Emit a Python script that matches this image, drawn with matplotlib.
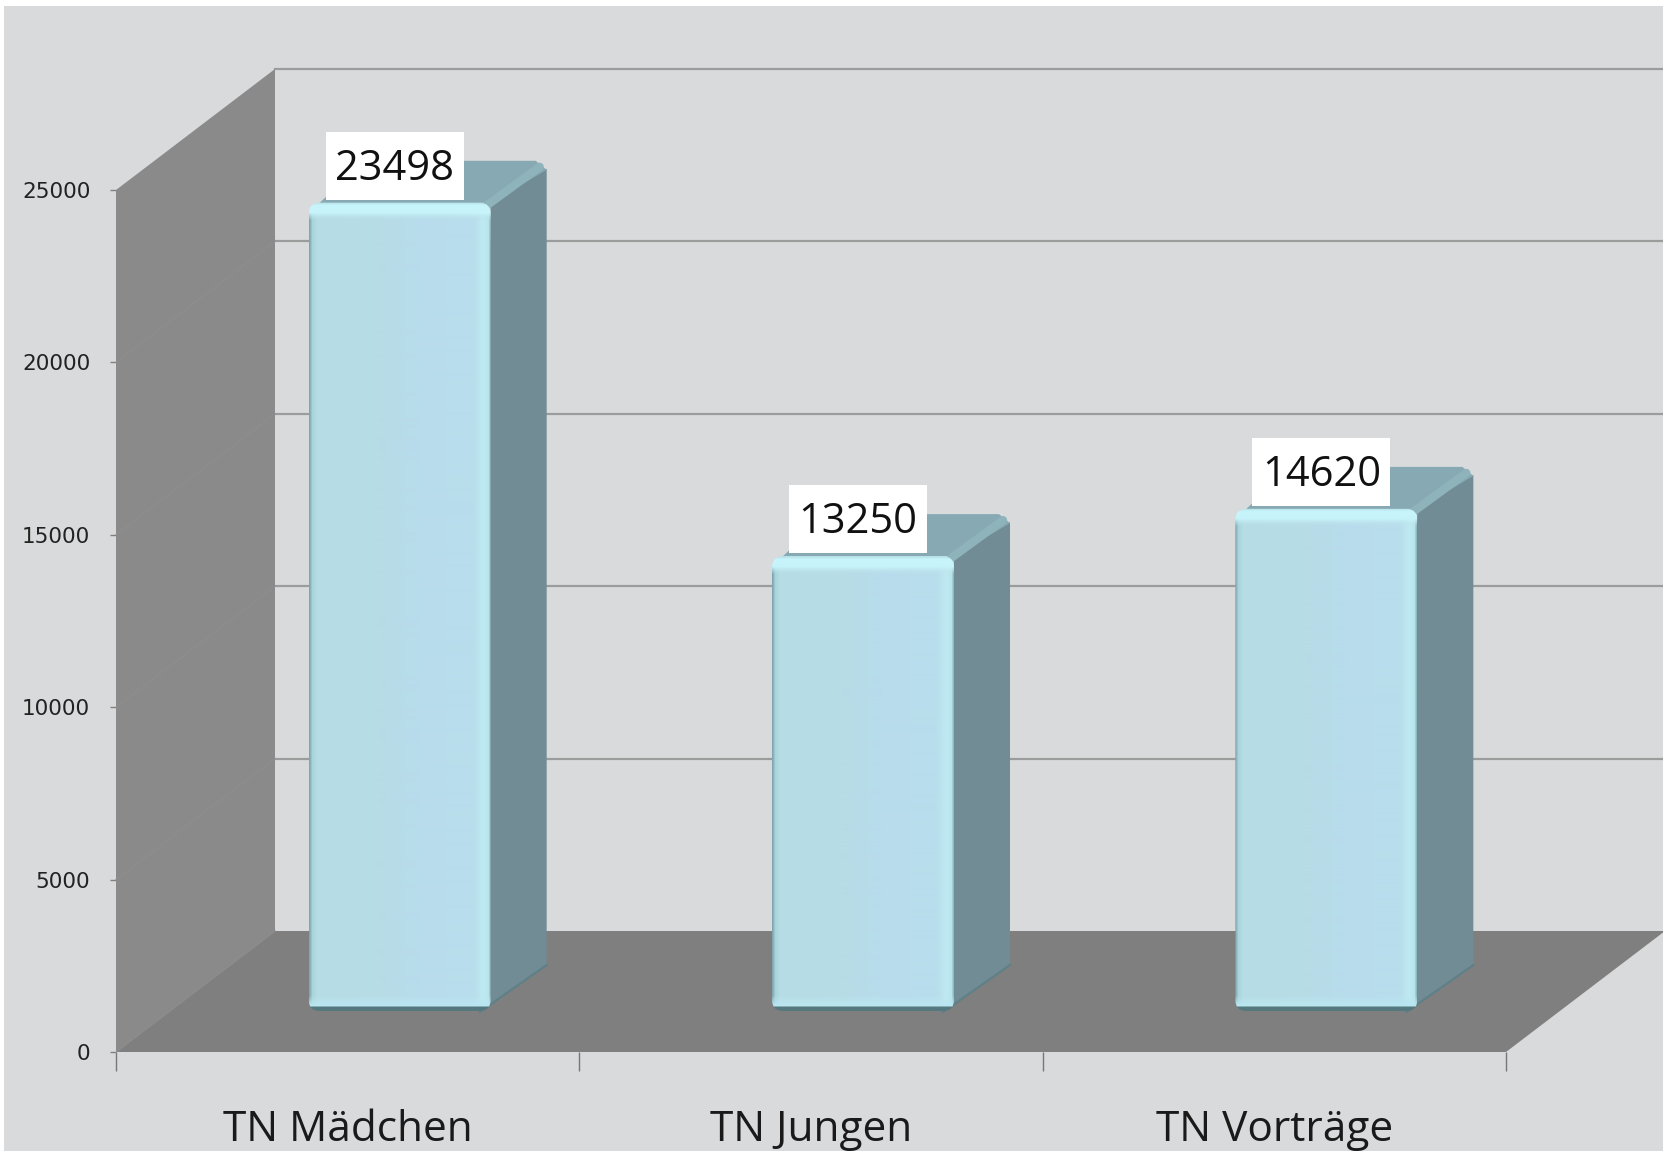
import matplotlib
matplotlib.use("Agg")
import matplotlib.pyplot as plt
import numpy as np
from matplotlib.colors import to_rgb
from matplotlib.patches import Polygon, Rectangle, FancyBboxPatch

categories = ["TN Mädchen", "TN Jungen", "TN Vorträge"]
values = [23498, 13250, 14620]
y_ticks = [0, 5000, 10000, 15000, 20000, 25000]

W, H = 1663, 1151
# one pixel in data units
PX = 3 / 1390
PY = 25000 / 862
depth_x = 159 * PX
depth_y = 121 * PY
bar_w = 182 * PX
bar_dx = 56 * PX
bar_dy = 42 * PY
base_y = 41 * PY
shift_x = 52 * PX
top_trim = 2 * PY

fig = plt.figure(figsize=(W / 100, H / 100), dpi=100, facecolor="white")
fig.patches.append(Rectangle((4 / W, 0), 1, 1 - 6 / H, transform=fig.transFigure,
                             facecolor="#d9dadb", edgecolor="none", zorder=-5))

ax = fig.add_axes([116 / W, (H - 1052) / H, 1390 / W, 862 / H])
ax.patch.set_alpha(0)
for s in ax.spines.values():
    s.set_visible(False)


def poly(pts, color, z):
    ax.add_patch(Polygon(pts, closed=True, facecolor=color, edgecolor="none", zorder=z, clip_on=False))


def ramp(n, stops):
    # colour ramp over n pixels, stops are (pixel, colour)
    pos = [p for p, c in stops]
    cols = np.array([to_rgb(c) for p, c in stops])
    return np.stack([np.interp(np.arange(n), pos, cols[:, k]) for k in range(3)], axis=-1)


def face_image(h_px):
    w_px = 182
    h_px = int(h_px)
    across = ramp(w_px, [(0, "#7ea6ac"), (3, "#a9d4db"), (8, "#b6dde5"), (70, "#b7dce6"), (110, "#b8dcec"),
                         (165, "#b8deec"), (174, "#bfeaf2"), (179, "#b8e4ec"), (181, "#8fb8c0")])
    img = np.repeat(across[None, :, :], h_px, axis=0)
    # top highlight band, and darker lower rim
    top = ramp(h_px, [(0, "#b5e3ea"), (3, "#c8f4fb"), (11, "#c6f2f9"), (17, "#bbe2ea"), (24, "#b7dde8"), (h_px - 1, "#b7dde8")])
    weight = np.clip((18 - np.arange(h_px)) / 8, 0, 1)[:, None, None]
    img = img * (1 - weight) + top[:, None, :] * weight
    low = np.clip((np.arange(h_px) - (h_px - 16)) / 10, 0, 1)[:, None, None]
    img = img * (1 - low) + np.array(to_rgb("#bae6f1")) * low
    rim = np.clip((np.arange(h_px) - (h_px - 6)) / 2, 0, 1)[:, None, None]
    img = img * (1 - rim) + np.array(to_rgb("#55797e")) * rim
    return img


# back wall grid
for v in y_ticks[1:]:
    ax.plot([depth_x, 3 + depth_x], [v + depth_y, v + depth_y], color="#9b9d9c", lw=1.6, zorder=1, clip_on=False)

# left wall and floor
poly([(0, 0), (depth_x, depth_y), (depth_x, 25000 + depth_y), (0, 25000)], "#8a8a8a", 2)
poly([(0, 0), (depth_x, depth_y), (3 + depth_x, depth_y), (3, 0)], "#7f7f7f", 3)
for v in y_ticks[1:-1]:
    ax.plot([0, depth_x], [v, v + depth_y], color="#8e8e8e", lw=0.8, zorder=2.5, clip_on=False)
ax.plot([0, depth_x], [0, depth_y], color="#8c8c8c", lw=1, zorder=3.5)

# bars
for i, val in enumerate(values):
    xc = i + 0.5 + shift_x
    x0 = xc - bar_w / 2
    x1 = x0 + bar_w
    y0 = base_y
    y1 = base_y + val - top_trim
    r = 11 * PX
    asp = PY / PX
    # side and top
    poly([(x1 - r, y0), (x1 + bar_dx, y0 + bar_dy + 4 * PY), (x1 + bar_dx, y1 + bar_dy - 8 * PY), (x1, y1)], "#718c95", 5)
    poly([(x0 + r, y1), (x0 + bar_dx, y1 + bar_dy), (x1 + bar_dx - r, y1 + bar_dy), (x1 + bar_dx, y1 + bar_dy - 9 * PY), (x1, y1)], "#86a9b3", 5)
    ax.plot([x1 - 3 * PX, x1 + bar_dx - 7 * PX], [y1 - 2 * PY, y1 + bar_dy - 6 * PY], color="#8fb3bb", lw=6,
            zorder=5.2, solid_capstyle="round", clip_on=False)
    ax.plot([x1 - r, x1 + bar_dx], [y0 - 1 * PY, y0 + bar_dy + 4 * PY], color="#5f8087", lw=1.6, zorder=5.2, clip_on=False)
    # front face with gradient
    face = FancyBboxPatch((x0, y0), bar_w, y1 - y0, boxstyle=f"round,pad=0,rounding_size={r}",
                          mutation_aspect=asp, facecolor="none", edgecolor="none", zorder=6, clip_on=False)
    ax.add_patch(face)
    im = ax.imshow(face_image((y1 - y0) / PY), extent=(x0, x1, y0, y1), aspect="auto", zorder=6,
                   interpolation="bilinear")
    im.set_clip_path(face)
    # white label box
    ax.add_patch(Rectangle((xc - 74 * PX, y1 + 3 * PY), 138 * PX, 68 * PY, facecolor="white", edgecolor="none",
                           zorder=7.5, clip_on=False))
    ax.annotate(str(val), (xc, y1), xytext=(-3.6, 24.6), textcoords="offset points",
                ha="center", va="center", fontsize=30, family="Open Sans", color="#111111", zorder=8,
                annotation_clip=False)

ax.set_xlim(0, 3)
ax.set_ylim(0, 25000)

# axis ticks
ax.set_yticks(y_ticks)
ax.tick_params(axis="y", length=4.5, width=1, color="#808080", pad=14, labelsize=15.5, labelcolor="#222222")
ax.set_xticks([0, 1, 2, 3])
ax.set_xticklabels([])
ax.tick_params(axis="x", which="major", length=14, width=1, color="#777777")
ax.set_xticks([0.5, 1.5, 2.5], minor=True)
ax.set_xticklabels(categories, minor=True, fontsize=30.5, family="Open Sans", color="#1a1a1a")
ax.tick_params(axis="x", which="minor", length=0, pad=41)

fig.savefig("out.png", dpi=100)
